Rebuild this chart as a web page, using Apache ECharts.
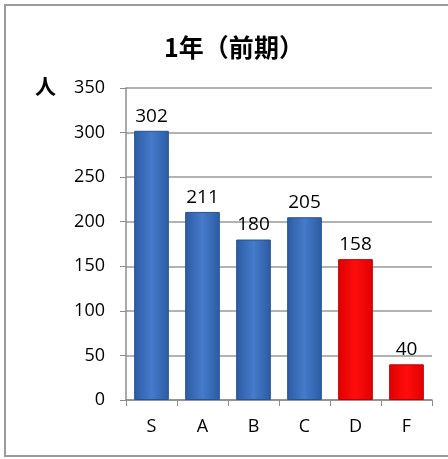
<!DOCTYPE html>
<html>
<head>
<meta charset="utf-8">
<script src="https://cdn.jsdelivr.net/npm/echarts@6/dist/echarts.min.js"></script>
<style>
  html, body { margin: 0; padding: 0; background: #fff; }
  #chart { width: 448px; height: 459px; }
</style>
</head>
<body>
<div id="chart"></div>
<script>
// data
const grades = ['S', 'A', 'B', 'C', 'D', 'F']
const counts = [302, 211, 180, 205, 158, 40]
const redGrades = ['D', 'F']
const yTicks = { min: 0, max: 350, interval: 50 }

const font = '"Open Sans", "Noto Sans", sans-serif'

const blueFill = new echarts.graphic.LinearGradient(0, 0, 1, 0, [
  { offset: 0, color: '#2c5ba3' },
  { offset: 0.5, color: '#457bcb' },
  { offset: 1, color: '#2c5ba3' }
])
const redFill = new echarts.graphic.LinearGradient(0, 0, 1, 0, [
  { offset: 0, color: '#e00000' },
  { offset: 0.5, color: '#ff0d0d' },
  { offset: 1, color: '#e00000' }
])

const chart = echarts.init(document.getElementById('chart'))
chart.setOption({
  animation: false,
  graphic: [
    { // outer frame
      type: 'rect',
      shape: { x: 5, y: 5, width: 470, height: 451 },
      style: { fill: 'none', stroke: '#9b9b9b', lineWidth: 2 }
    },
    {
      type: 'text',
      left: 35, top: 76,
      style: { text: '人', font: 'bold 21px "Noto Sans CJK JP"', fill: '#000' }
    }
  ],
  title: {
    text: '1年（前期）',
    left: 229, top: 30, textAlign: 'center',
    textStyle: { fontFamily: '"Noto Sans CJK JP"', fontWeight: 'bold', fontSize: 25, color: '#000' }
  },
  grid: { left: 126, right: 16, top: 88, bottom: 59 },
  xAxis: {
    type: 'category',
    data: grades,
    axisLine: { lineStyle: { color: '#8c8c8c', width: 1.5 } },
    axisTick: { show: true, length: 6, lineStyle: { color: '#8c8c8c' } },
    axisLabel: { color: '#000', fontSize: 18, fontFamily: font, margin: 18 }
  },
  yAxis: {
    type: 'value',
    min: yTicks.min, max: yTicks.max, interval: yTicks.interval,
    axisLine: { show: true, lineStyle: { color: '#8c8c8c', width: 1.5 } },
    axisTick: { show: true, length: 6, lineStyle: { color: '#8c8c8c' } },
    axisLabel: { color: '#000', fontSize: 18, fontFamily: font, margin: 21 },
    splitLine: { lineStyle: { color: '#999', width: 1.5 } }
  },
  series: [{
    type: 'bar',
    barWidth: '68%',
    data: counts.map((v, i) => ({
      value: v,
      itemStyle: {
        color: redGrades.includes(grades[i]) ? redFill : blueFill,
        borderColor: redGrades.includes(grades[i]) ? '#b80000' : '#26528f',
        borderWidth: 1
      }
    })),
    label: {
      show: true, position: 'top', distance: 5,
      color: '#000', fontSize: 19, fontFamily: font
    }
  }]
})
</script>
</body>
</html>
